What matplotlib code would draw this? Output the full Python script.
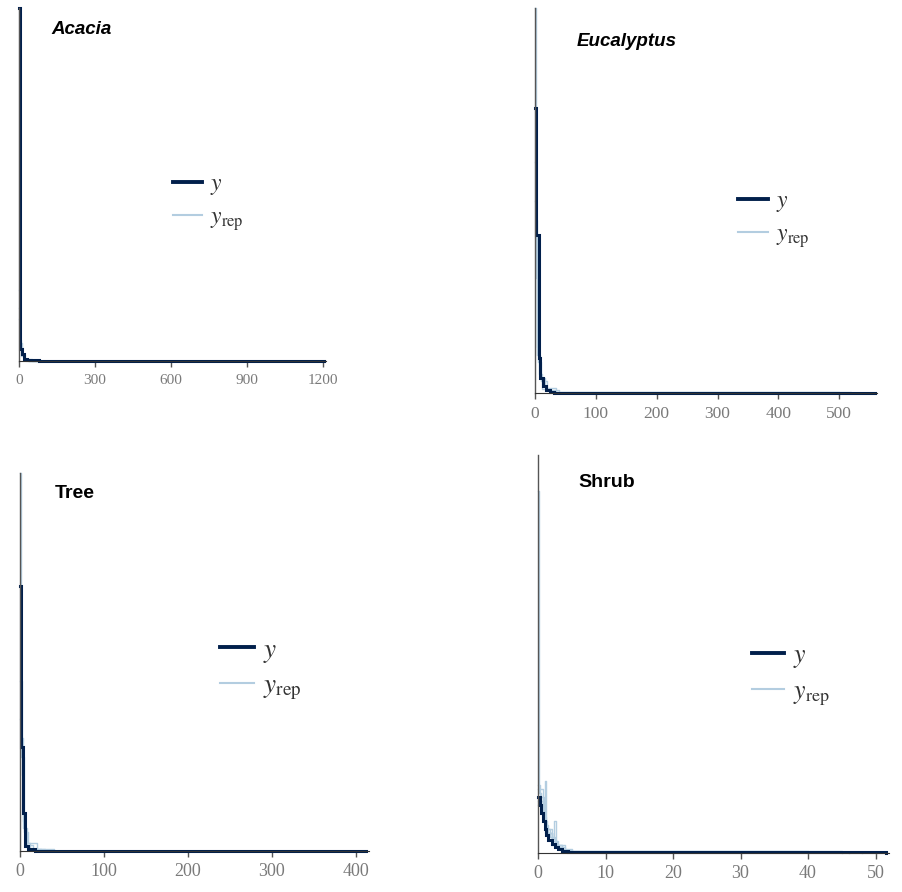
import matplotlib.pyplot as plt
from matplotlib.lines import Line2D

# colours (bayesplot "blue" scheme)
col_y = '#011f4b'
col_yrep = '#b3cde0'

# ---- Acacia ----
acacia_x = [0, 5, 12, 20, 30, 80, 1205]
acacia_y = [1.00, 0.035, 0.02, 0.006, 0.002, 0.0008, 0.0004]
acacia_rep = [
    ([0, 4, 10, 20, 40, 900], [0.20, 0.05, 0.02, 0.005, 0.001, 0.0003]),
    ([0, 3, 8, 18, 35, 700], [0.15, 0.06, 0.015, 0.004, 0.001, 0.0003]),
    ([0, 5, 12, 25, 50, 1100], [0.12, 0.04, 0.018, 0.006, 0.001, 0.0002]),
]
acacia_ticks = [0, 300, 600, 900, 1200]

# ---- Eucalyptus ----
euc_x = [0, 1.5, 6, 9, 13, 18, 24, 32, 558]
euc_y = [0.74, 0.41, 0.09, 0.04, 0.018, 0.008, 0.003, 0.001, 0.0004]
euc_rep = [
    ([0, 1, 3, 6, 12, 25, 500], [1.0, 0.35, 0.12, 0.05, 0.01, 0.002, 0.0003]),
    ([0, 2, 5, 10, 20, 40, 450], [0.6, 0.3, 0.08, 0.03, 0.008, 0.001, 0.0002]),
    ([0, 1.5, 4, 8, 16, 35, 520], [0.5, 0.45, 0.1, 0.04, 0.012, 0.002, 0.0003]),
]
euc_ticks = [0, 100, 200, 300, 400, 500]

# ---- Tree ----
tree_x = [0, 1.2, 4, 6, 10, 18, 412]
tree_y = [0.70, 0.275, 0.10, 0.012, 0.005, 0.001, 0.0003]
tree_rep = [
    ([0, 1, 3, 6, 12, 25, 380], [1.0, 0.3, 0.08, 0.02, 0.005, 0.001, 0.0002]),
    ([0, 2, 4, 8, 15, 30, 350], [0.45, 0.2, 0.06, 0.015, 0.004, 0.001, 0.0002]),
    ([0, 1.5, 5, 9, 20, 40, 400], [0.35, 0.25, 0.05, 0.02, 0.004, 0.001, 0.0002]),
]
tree_ticks = [0, 100, 200, 300, 400]

# ---- Shrub ----
shrub_x = [0, 0.25, 0.5, 0.75, 1.0, 1.25, 1.5, 2.0, 2.5, 3.0, 3.5, 4.5, 51.5]
shrub_y = [0.14, 0.12, 0.10, 0.08, 0.06, 0.045, 0.032, 0.022, 0.014, 0.009, 0.005, 0.002, 0.0005]
shrub_rep = [
    ([0, 0.1, 0.5, 1, 2, 4, 40], [0.91, 0.15, 0.1, 0.05, 0.02, 0.004, 0.0003]),
    ([0, 0.8, 1.0, 1.2, 2, 3, 4, 45], [0.16, 0.09, 0.18, 0.06, 0.03, 0.01, 0.004, 0.0003]),
    ([0, 0.5, 1, 1.5, 2, 2.3, 2.6, 3.5, 5, 48], [0.13, 0.11, 0.07, 0.05, 0.035, 0.08, 0.02, 0.008, 0.002, 0.0003]),
    ([0, 0.3, 0.7, 1.2, 1.8, 2.5, 3.5, 5, 50], [0.17, 0.13, 0.09, 0.06, 0.04, 0.02, 0.01, 0.003, 0.0003]),
    ([0, 0.4, 0.9, 1.4, 2.1, 2.8, 4, 6, 46], [0.12, 0.14, 0.08, 0.05, 0.03, 0.015, 0.006, 0.002, 0.0003]),
]
shrub_ticks = [0, 10, 20, 30, 40, 50]


def draw_panel(ax, xs, ys, reps, ticks, xmax, title, italic, title_pos,
               title_size, tick_size, leg_pos, leg_size):
    for rx, ry in reps:
        ax.plot(rx, ry, color=col_yrep, lw=1.0, drawstyle='steps-post', clip_on=False)
    ax.plot(xs, ys, color=col_y, lw=2.2, drawstyle='steps-post', clip_on=False,
            solid_joinstyle='miter')
    ax.set_xlim(0, xmax)
    ax.set_ylim(0, 1.0)
    ax.set_xticks(ticks)
    ax.set_yticks([])
    for s in ['top', 'right']:
        ax.spines[s].set_visible(False)
    ax.spines['left'].set_color('#555555')
    ax.spines['left'].set_linewidth(1.0)
    ax.spines['bottom'].set_color('#333333')
    ax.tick_params(axis='x', length=4, width=1, color='#555555', pad=5,
                   labelsize=tick_size, labelcolor='#7a7a7a')
    for lab in ax.get_xticklabels():
        lab.set_fontfamily('Liberation Serif')
    ax.text(title_pos[0], title_pos[1], title, transform=ax.transAxes,
            fontsize=title_size, fontweight='bold',
            fontstyle='italic' if italic else 'normal',
            family='Liberation Sans', va='center', ha='left')
    handles = [Line2D([], [], color=col_y, lw=2.8),
               Line2D([], [], color=col_yrep, lw=1.5)]
    leg = ax.legend(handles, [r'$y$', r'$y_{\mathrm{rep}}$'], loc='center left',
                    bbox_to_anchor=leg_pos, frameon=False, fontsize=leg_size,
                    handlelength=1.25, handletextpad=0.35, labelspacing=0.3,
                    borderpad=0, borderaxespad=0)
    for t in leg.get_texts():
        t.set_color('#333333')


plt.rcParams['mathtext.fontset'] = 'stix'

fig = plt.figure(figsize=(9.02, 8.92), dpi=100)
W, H = 902.0, 892.0


def add_axes(left, right, top, bottom):
    return fig.add_axes([left / W, 1 - bottom / H, (right - left) / W, (bottom - top) / H])


ax1 = add_axes(19, 326, 8, 361)
ax2 = add_axes(535, 877, 8, 393)
ax3 = add_axes(20, 369, 473, 851)
ax4 = add_axes(538, 889, 455, 853)

draw_panel(ax1, acacia_x, acacia_y, acacia_rep, acacia_ticks, 1212, 'Acacia', True,
           (0.107, 0.94), 13.5, 11, (0.50, 0.45), 17)
draw_panel(ax2, euc_x, euc_y, euc_rep, euc_ticks, 562, 'Eucalyptus', True,
           (0.123, 0.912), 13.5, 12.5, (0.594, 0.452), 17)
draw_panel(ax3, tree_x, tree_y, tree_rep, tree_ticks, 415.5, 'Tree', False,
           (0.10, 0.947), 14, 13, (0.573, 0.48), 19.5)
draw_panel(ax4, shrub_x, shrub_y, shrub_rep, shrub_ticks, 52, 'Shrub', False,
           (0.114, 0.93), 14, 13, (0.61, 0.447), 18.5)

fig.savefig('out.png', dpi=100)
